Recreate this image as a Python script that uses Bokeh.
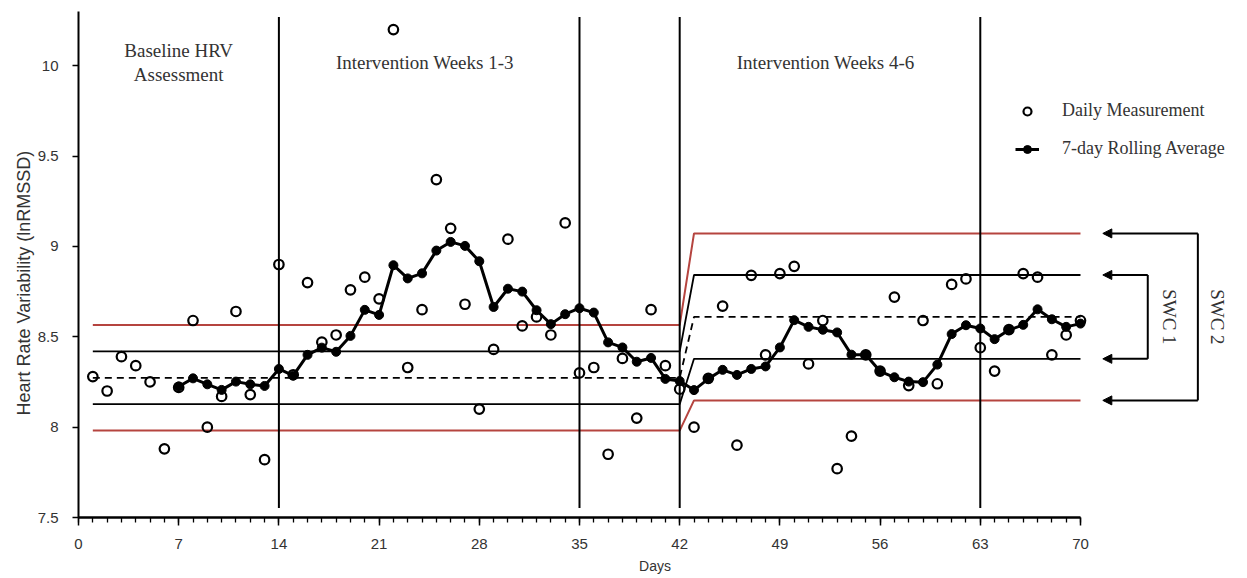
from bokeh.plotting import figure
from bokeh.models import (FixedTicker, NumeralTickFormatter, Legend, LegendItem,
                          Range1d, Label, Arrow, NormalHead, Title)
from bokeh.embed import file_html
from bokeh.resources import INLINE
import math

# ---------------- data ----------------
days = list(range(1, 71))
daily = [8.28, 8.20, 8.39, 8.34, 8.25, 7.88, 8.22, 8.59, 8.00, 8.17,
         8.64, 8.18, 7.82, 8.90, 8.29, 8.80, 8.47, 8.51, 8.76, 8.83,
         8.71, 10.20, 8.33, 8.65, 9.37, 9.10, 8.68, 8.10, 8.43, 9.04,
         8.56, 8.61, 8.51, 9.13, 8.30, 8.33, 7.85, 8.38, 8.05, 8.65,
         8.34, 8.21, 8.00, 8.27, 8.67, 7.90, 8.84, 8.40, 8.85, 8.89,
         8.35, 8.59, 7.77, 7.95, 8.40, 8.31, 8.72, 8.23, 8.59, 8.24,
         8.79, 8.82, 8.44, 8.31, 8.54, 8.85, 8.83, 8.40, 8.51, 8.59]

roll_days = list(range(7, 71))
rolling = [8.225, 8.270, 8.237, 8.206, 8.252, 8.237, 8.228, 8.322, 8.285, 8.400,
           8.440, 8.417, 8.505, 8.649, 8.621, 8.896, 8.823, 8.851, 8.977, 9.025,
           9.003, 8.918, 8.665, 8.766, 8.750, 8.647, 8.570, 8.625, 8.658, 8.634,
           8.469, 8.441, 8.362, 8.383, 8.267, 8.255, 8.205, 8.267, 8.317, 8.289,
           8.322, 8.336, 8.441, 8.592, 8.555, 8.539, 8.524, 8.401, 8.401, 8.309,
           8.276, 8.252, 8.249, 8.346, 8.515, 8.564, 8.546, 8.487, 8.537, 8.566,
           8.652, 8.597, 8.555, 8.573]

phase_bounds = [14, 35, 42, 63]
phase_labels = ["Baseline HRV\nAssessment", "Intervention Weeks 1-3", "Intervention Weeks 4-6"]
phase_label_x = [7.0, 24.2, 52.2]

# reference bands: baseline (days 1-42) and intervention weeks 4-6 (days 43-70)
band_days = [1, 42, 43, 70]
means = [8.273, 8.610]
swc1 = [0.146, 0.232]
swc2 = [0.292, 0.462]

x_ticks = [0, 7, 14, 21, 28, 35, 42, 49, 56, 63, 70]
y_ticks = [7.5, 8, 8.5, 9, 9.5, 10]

SERIF = "Liberation Serif"
SANS = "Liberation Sans"
RED = "#b5443f"
TXT = "#333333"

# ---------------- figure ----------------
p = figure(width=1231, height=576, x_range=Range1d(0, 80.55), y_range=Range1d(7.5, 10.3),
           output_backend="svg", toolbar_location=None,
           min_border_left=78, min_border_right=0, min_border_top=11, min_border_bottom=59)
p.xgrid.visible = False
p.ygrid.visible = False
p.outline_line_color = None
p.background_fill_color = "white"


def band(offset_sign, widths, color, dash, lw):
    ys = [means[0] + offset_sign * widths[0], means[0] + offset_sign * widths[0],
          means[1] + offset_sign * widths[1], means[1] + offset_sign * widths[1]]
    p.line(band_days, ys, line_color=color, line_width=lw, line_dash=dash)


band(1, swc2, RED, "solid", 2)
band(-1, swc2, RED, "solid", 2)
band(1, swc1, "black", "solid", 1.8)
band(-1, swc1, "black", "solid", 1.8)
band(0, swc1, "black", "7 5", 1.8)

# phase boundary lines
p.segment(x0=phase_bounds, y0=[7.553] * len(phase_bounds), x1=phase_bounds,
          y1=[10.27] * len(phase_bounds), line_color="black", line_width=2)

# data
r_daily = p.scatter(days, daily, marker="circle", size=9.5, line_color="black",
                    line_width=2.2, fill_color=None)
r_rline = p.line(roll_days, rolling, line_color="black", line_width=3)
r_rpts = p.scatter(roll_days, rolling, marker="circle", size=9, line_color="black",
                   fill_color="black")

# phase labels
for lx, lt in zip(phase_label_x, phase_labels):
    p.add_layout(Label(x=lx, y=10.02, text=lt, text_align="center", text_baseline="middle",
                       text_font=SERIF, text_font_size="19px", text_color=TXT,
                       text_line_height=1.15))

# SWC brackets (outside the day axis)
lv = {
    "s2_hi": means[1] + swc2[1], "s1_hi": means[1] + swc1[1],
    "s1_lo": means[1] - swc1[1], "s2_lo": means[1] - swc2[1],
}
tip_x = 71.56
for key, vx in (("s2_hi", 78.2), ("s2_lo", 78.2), ("s1_hi", 74.7), ("s1_lo", 74.7)):
    p.add_layout(Arrow(x_start=vx, y_start=lv[key], x_end=tip_x, y_end=lv[key],
                       line_width=2, line_color="black",
                       end=NormalHead(size=9, fill_color="black", line_color="black")))
p.segment(x0=[74.7, 78.2], y0=[lv["s1_lo"], lv["s2_lo"]], x1=[74.7, 78.2],
          y1=[lv["s1_hi"], lv["s2_hi"]], line_color="black", line_width=2)
p.add_layout(Label(x=76.2, y=(lv["s1_hi"] + lv["s1_lo"]) / 2, text="SWC 1", angle=-math.pi / 2,
                   text_align="center", text_baseline="middle", text_font=SERIF,
                   text_font_size="19px", text_color=TXT))
p.add_layout(Label(x=79.6, y=(lv["s2_hi"] + lv["s2_lo"]) / 2, text="SWC 2", angle=-math.pi / 2,
                   text_align="center", text_baseline="middle", text_font=SERIF,
                   text_font_size="19px", text_color=TXT))

# legend
legend = Legend(items=[LegendItem(label="Daily Measurement", renderers=[r_daily]),
                       LegendItem(label="7-day Rolling Average", renderers=[r_rline, r_rpts])],
                location=(937, 358), padding=0, margin=0, spacing=17,
                glyph_width=24, glyph_height=20, label_height=20, label_standoff=23,
                border_line_color=None, background_fill_alpha=0,
                label_text_font=SERIF, label_text_font_size="18px", label_text_color=TXT,
                label_text_baseline="middle")
p.add_layout(legend)

# axes
xa = p.xaxis[0]
xa.ticker = FixedTicker(ticks=x_ticks, minor_ticks=list(range(0, 71)))
xa.bounds = (0, 70)
xa.axis_label = "Days"
xa.axis_line_width = 2.5
xa.major_tick_in = 0
xa.major_tick_out = 8
xa.minor_tick_in = 0
xa.minor_tick_out = 5
xa.major_tick_line_width = 1.5
xa.minor_tick_line_width = 1.3
xa.major_label_standoff = 13
xa.axis_label_standoff = 6
xa.major_label_text_font = SANS
xa.major_label_text_font_size = "15px"
xa.major_label_text_color = TXT
xa.axis_label_text_font = SANS
xa.axis_label_text_font_size = "14px"
xa.axis_label_text_font_style = "normal"
xa.axis_label_text_color = TXT

ya = p.yaxis[0]
ya.ticker = FixedTicker(ticks=y_ticks)
ya.formatter = NumeralTickFormatter(format="0.[0]")
ya.axis_line_width = 2
ya.major_tick_in = 0
ya.major_tick_out = 6
ya.minor_tick_line_color = None
ya.major_tick_line_width = 1.5
ya.major_label_standoff = 14
ya.major_label_text_font = SANS
ya.major_label_text_font_size = "15px"
ya.major_label_text_color = TXT

# y-axis title as a side title, starting a little above the frame bottom as in the reference
p.add_layout(Title(text="Heart Rate Variability (lnRMSSD)", align="left", offset=102,
                   text_font=SANS, text_font_size="18px", text_font_style="normal",
                   text_color=TXT, standoff=2), "left")

open("out.html", "w").write(file_html(p, INLINE))
